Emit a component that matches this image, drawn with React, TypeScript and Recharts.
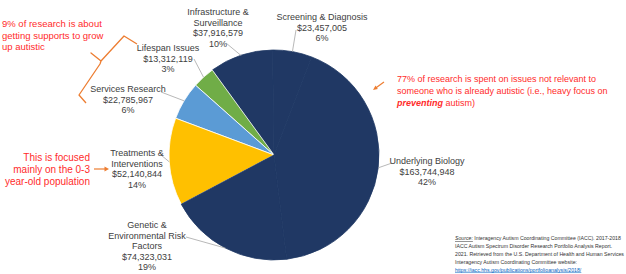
import { PieChart, Pie, Cell } from "recharts";

// Counter-clockwise from the top-right, as drawn in the picture
const categories = [
  "Screening & Diagnosis",
  "Infrastructure & Surveillance",
  "Lifespan Issues",
  "Services Research",
  "Treatments & Interventions",
  "Genetic & Environmental Risk Factors",
  "Underlying Biology",
];
const amounts = [23457005, 37916579, 13312119, 22785967, 52140844, 74323031, 163744948];
const percentLabels = ["6%", "10%", "3%", "6%", "14%", "19%", "42%"];

const NAVY = "#203864";
const colors = [NAVY, NAVY, "#70AD47", "#5B9BD5", "#FFC000", NAVY, NAVY];

// where each label block sits, with its first line and the start of its leader line
const labelLayout: Record<string, { lines: string[]; x: number; y: number; from: [number, number] }> = {
  "Screening & Diagnosis": { lines: ["Screening & Diagnosis"], x: 322, y: 17, from: [296, 30] },
  "Infrastructure & Surveillance": { lines: ["Infrastructure &", "Surveillance"], x: 218, y: 12, from: [226, 43] },
  "Lifespan Issues": { lines: ["Lifespan Issues"], x: 168, y: 48, from: [194, 59] },
  "Services Research": { lines: ["Services Research"], x: 128, y: 89, from: [161, 92] },
  "Treatments & Interventions": { lines: ["Treatments &", "Interventions"], x: 137, y: 153, from: [161, 155] },
  "Genetic & Environmental Risk Factors": {
    lines: ["Genetic &", "Environmental Risk", "Factors"],
    x: 147,
    y: 225,
    from: [186, 237],
  },
  "Underlying Biology": { lines: ["Underlying Biology"], x: 427, y: 161, from: [392, 163] },
};

const data = categories.map((name, i) => ({ name, value: amounts[i], pct: percentLabels[i] }));

const fmt = (v: number) => "$" + v.toLocaleString("en-US");

const LABEL_FONT = "'Liberation Sans Narrow', 'Liberation Sans', Arial, sans-serif";
const RED_FONT = "'Liberation Sans', Arial, sans-serif";

function renderLabel(props: any) {
  const { cx, cy, midAngle, outerRadius, index } = props;
  const d = data[index];
  const lay = labelLayout[d.name];
  const rad = (-midAngle * Math.PI) / 180;
  const ex = cx + outerRadius * Math.cos(rad);
  const ey = cy + outerRadius * Math.sin(rad);
  const lines = [...lay.lines, fmt(d.value), d.pct];
  return (
    <g key={"lbl" + index}>
      <line x1={lay.from[0]} y1={lay.from[1]} x2={ex} y2={ey} stroke="#A6A6A6" strokeWidth={0.8} />
      {lines.map((t, j) => (
        <text
          key={j}
          x={lay.x}
          y={lay.y + j * 10.5}
          textAnchor="middle"
          dominantBaseline="central"
          fontSize={9}
          fontFamily={LABEL_FONT}
          fill="#404040"
        >
          {t}
        </text>
      ))}
    </g>
  );
}

export default function App() {
  return (
    <div style={{ position: "absolute", left: 0, top: 0, width: 626, height: 274, background: "#fff" }}>
      <PieChart width={626} height={274} margin={{ top: 0, right: 0, bottom: 0, left: 0 }}>
        <Pie
          data={data}
          dataKey="value"
          nameKey="name"
          cx={274}
          cy={155}
          outerRadius={105}
          startAngle={69}
          endAngle={429}
          label={renderLabel}
          labelLine={false}
          isAnimationActive={false}
        >
          {data.map((d, i) => (
            <Cell key={d.name} fill={colors[i]} stroke={colors[i] === NAVY ? NAVY : "#fff"} strokeWidth={0.8} />
          ))}
        </Pie>
      </PieChart>

      <svg width={626} height={274} style={{ position: "absolute", left: 0, top: 0, pointerEvents: "none" }}>
        {/* left note */}
        <text fontFamily={RED_FONT} fontSize={9.5} fill="#FF2B2B">
          <tspan x={2} y={27}>9% of research is about</tspan>
          <tspan x={2} y={38.5}>getting supports to grow</tspan>
          <tspan x={2} y={50}>up autistic</tspan>
        </text>
        <polyline
          points="137,44 124,36 101,61 91,53 101,61 100,64 79,95 86,103"
          fill="none"
          stroke="#ED7D31"
          strokeWidth={1.3}
          strokeLinejoin="round"
        />

        {/* right note */}
        <text fontFamily={RED_FONT} fontSize={9} fill="#FF2B2B">
          <tspan x={397} y={82}>77% of research is spent on issues not relevant to</tspan>
          <tspan x={397} y={94}>someone who is already autistic (i.e., heavy focus on</tspan>
          <tspan x={397} y={106}>
            <tspan fontWeight="bold" fontStyle="italic">preventing</tspan> autism)
          </tspan>
        </text>
        <line x1={384} y1={82} x2={375} y2={88.5} stroke="#ED7D31" strokeWidth={1.2} />
        <polygon points="373,90 375.5,85.5 377.8,89" fill="#ED7D31" />

        {/* treatments note */}
        <text fontFamily={RED_FONT} fontSize={10} fill="#FF2B2B" textAnchor="end">
          <tspan x={90} y={161}>This is focused</tspan>
          <tspan x={90} y={173}>mainly on the 0-3</tspan>
          <tspan x={90} y={185}>year-old population</tspan>
        </text>
        <line x1={94} y1={169} x2={105} y2={169} stroke="#ED7D31" strokeWidth={1.2} />
        <polygon points="109,169 104.5,166.5 104.5,171.5" fill="#ED7D31" />

        {/* source */}
        <text fontFamily={LABEL_FONT} fontSize={5.2} fill="#333">
          <tspan x={455} y={240}>
            <tspan fontStyle="italic" textDecoration="underline">Source:</tspan> Interagency Autism Coordinating Committee (IACC). 2017-2018
          </tspan>
          <tspan x={455} y={248}>IACC Autism Spectrum Disorder Research Portfolio Analysis Report.</tspan>
          <tspan x={455} y={256}>2021. Retrieved from the U.S. Department of Health and Human Services</tspan>
          <tspan x={455} y={264}>Interagency Autism Coordinating Committee website:</tspan>
          <tspan x={455} y={271.5} fill="#0563C1" textDecoration="underline">
            https://iacc.hhs.gov/publications/portfolioanalysis/2018/
          </tspan>
        </text>
      </svg>
    </div>
  );
}
